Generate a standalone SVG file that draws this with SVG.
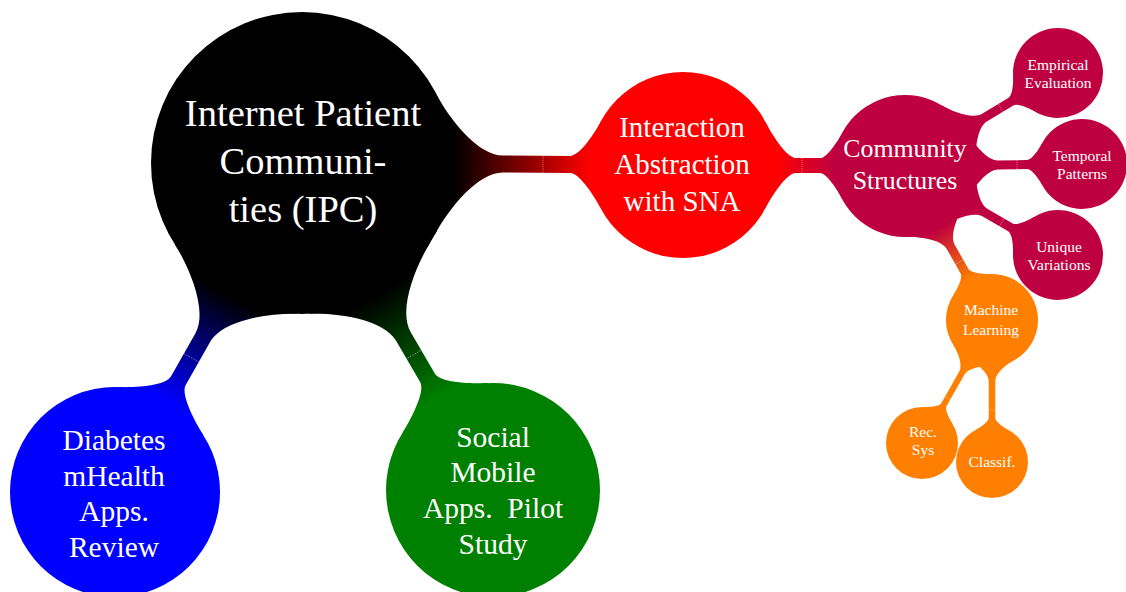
<svg xmlns="http://www.w3.org/2000/svg" width="1126" height="592" viewBox="0 0 1126 592">
  <style>
    .t { font-family: "Liberation Serif", "Times New Roman", serif; fill: #ffffff; text-anchor: middle; }
    .t1 { font-size: 38.5px; }
    .t2 { font-size: 29px; }
    .t2b { font-size: 29.5px; }
    .t3 { font-size: 25.8px; }
    .t4 { font-size: 15.5px; }
    .seam { stroke: #ffffff; stroke-opacity: 0.6; stroke-width: 0.8; stroke-dasharray: 1 1; fill: none; }
  </style>
  <defs>
    <linearGradient id="g-sna" gradientUnits="userSpaceOnUse" x1="151" y1="0" x2="288" y2="0">
      <stop offset="0" stop-color="#000000"/>
      <stop offset="1" stop-color="#ff0000"/>
    </linearGradient>
    <linearGradient id="g-diab" gradientUnits="userSpaceOnUse" x1="151" y1="0" x2="273.4" y2="0">
      <stop offset="0" stop-color="#000000"/>
      <stop offset="1" stop-color="#0000ff"/>
    </linearGradient>
    <linearGradient id="g-soc" gradientUnits="userSpaceOnUse" x1="151" y1="0" x2="271.7" y2="0">
      <stop offset="0" stop-color="#000000"/>
      <stop offset="1" stop-color="#008000"/>
    </linearGradient>
    <linearGradient id="g-com" gradientUnits="userSpaceOnUse" x1="93" y1="0" x2="151" y2="0">
      <stop offset="0" stop-color="#ff0000"/>
      <stop offset="1" stop-color="#bf0040"/>
    </linearGradient>
    <linearGradient id="g-ml" gradientUnits="userSpaceOnUse" x1="71" y1="0" x2="130.9" y2="0">
      <stop offset="0" stop-color="#bf0040"/>
      <stop offset="1" stop-color="#ff8000"/>
    </linearGradient>
  </defs>

  <!-- connection bars (drawn in local frames: parent centre at origin, child on +x axis) -->
  <g id="connectors">
    <g transform="translate(302 163) rotate(0.3)">
      <path fill="url(#g-sna)" d="M133.3,-70.8 C147.4,-44.3 176,-8.5 201,-8.5 L268,-8.5 C278,-8.5 293.3,-33 298.9,-43.6 L298.9,43.6 C293.3,33 278,8.5 268,8.5 L201,8.5 C176,8.5 147.4,44.3 133.3,70.8 Z"/>
      <line class="seam" x1="241" y1="-8.5" x2="241" y2="8.5"/>
    </g>
    <g transform="translate(302 163) rotate(119.6)">
      <path fill="url(#g-diab)" d="M133.3,-70.8 C147.4,-44.3 176,-8.5 201,-8.5 L250.4,-8.5 C261.9,-8.5 279.2,-37 285.7,-49.2 L285.7,49.2 C279.2,37 261.9,8.5 250.4,8.5 L201,8.5 C176,8.5 147.4,44.3 133.3,70.8 Z"/>
      <line class="seam" x1="224" y1="-8.5" x2="224" y2="8.5"/>
    </g>
    <g transform="translate(302 163) rotate(59.7)">
      <path fill="url(#g-soc)" d="M133.3,-70.8 C147.4,-44.3 176,-8.5 201,-8.5 L248.7,-8.5 C260.2,-8.5 277.7,-38 284.2,-50.2 L284.2,50.2 C277.7,38 260.2,8.5 248.7,8.5 L201,8.5 C176,8.5 147.4,44.3 133.3,70.8 Z"/>
      <line class="seam" x1="221.8" y1="-8.5" x2="221.8" y2="8.5"/>
    </g>
    <g transform="translate(683 165) rotate(0.26)">
      <path fill="url(#g-com)" d="M82.1,-43.6 C87.7,-33 103,-7.5 113,-7.5 L137,-7.5 C144,-7.5 155.4,-25.9 159.3,-33.3 L159.3,33.3 C155.4,25.9 144,7.5 137,7.5 L113,7.5 C103,7.5 87.7,33 82.1,43.6 Z"/>
      <line class="seam" x1="119" y1="-7.5" x2="119" y2="7.5"/>
    </g>
    <g transform="translate(905 166) rotate(-31.3)">
      <path fill="#bf0040" d="M62.7,-33.3 C68.9,-21.6 82,-4.5 93,-4.5 L124,-4.5 C129,-4.5 136.5,-15.8 139.3,-21.1 L139.3,21.1 C136.5,15.8 129,4.5 124,4.5 L93,4.5 C82,4.5 68.9,21.6 62.7,33.3 Z"/>
      <line class="seam" x1="112" y1="-4.5" x2="112" y2="4.5"/>
    </g>
    <g transform="translate(905 166) rotate(-0.65)">
      <path fill="#bf0040" d="M62.7,-33.3 C68.9,-21.6 82,-4.5 93,-4.5 L122,-4.5 C127,-4.5 134.5,-15.8 137.3,-21.1 L137.3,21.1 C134.5,15.8 127,4.5 122,4.5 L93,4.5 C82,4.5 68.9,21.6 62.7,33.3 Z"/>
      <line class="seam" x1="112" y1="-4.5" x2="112" y2="4.5"/>
    </g>
    <g transform="translate(905 166) rotate(30.2)">
      <path fill="#bf0040" d="M62.7,-33.3 C68.9,-21.6 82,-4.5 93,-4.5 L122,-4.5 C127,-4.5 134.5,-15.8 137.3,-21.1 L137.3,21.1 C134.5,15.8 127,4.5 122,4.5 L93,4.5 C82,4.5 68.9,21.6 62.7,33.3 Z"/>
      <line class="seam" x1="112" y1="-4.5" x2="112" y2="4.5"/>
    </g>
    <g transform="translate(905 166) rotate(60.5)">
      <path fill="url(#g-ml)" d="M62.7,-33.3 C68.9,-21.6 82,-4.5 93,-4.5 L120.9,-4.5 C125.9,-4.5 133.5,-16.3 136.3,-21.6 L136.3,21.6 C133.5,16.3 125.9,4.5 120.9,4.5 L93,4.5 C82,4.5 68.9,21.6 62.7,33.3 Z"/>
      <line class="seam" x1="110.5" y1="-4.5" x2="110.5" y2="4.5"/>
    </g>
    <g transform="translate(992 320) rotate(119.6)">
      <path fill="#ff8000" d="M40.6,-21.6 C44.8,-13.7 53.5,-3 61,-3 L97.5,-3 C101.5,-3 107.5,-12.7 109.7,-16.9 L109.7,16.9 C107.5,12.7 101.5,3 97.5,3 L61,3 C53.5,3 44.8,13.7 40.6,21.6 Z"/>
      <line class="seam" x1="89.6" y1="-3" x2="89.6" y2="3"/>
    </g>
    <g transform="translate(992 320) rotate(90)">
      <path fill="#ff8000" d="M40.6,-21.6 C44.8,-13.7 53.5,-3.3 61,-3.3 L98,-3.3 C102,-3.3 108,-12.7 110.2,-16.9 L110.2,16.9 C108,12.7 102,3.3 98,3.3 L61,3.3 C53.5,3.3 44.8,13.7 40.6,21.6 Z"/>
      <line class="seam" x1="90" y1="-3.3" x2="90" y2="3.3"/>
    </g>
  </g>

  <!-- concepts -->
  <g id="ipc">
    <circle cx="302" cy="163" r="151" fill="#000000"/>
    <text class="t t1" x="303" y="126">Internet Patient</text>
    <text class="t t1" x="303" y="174">Communi-</text>
    <text class="t t1" x="303" y="222">ties (IPC)</text>
  </g>
  <g id="sna">
    <circle cx="683" cy="165" r="93" fill="#ff0000"/>
    <text class="t t2" x="682" y="137">Interaction</text>
    <text class="t t2" x="682" y="173.5">Abstraction</text>
    <text class="t t2" x="682" y="210.5">with SNA</text>
  </g>
  <g id="diabetes">
    <circle cx="115" cy="492" r="105" fill="#0000ff"/>
    <text class="t t2b" x="114" y="450">Diabetes</text>
    <text class="t t2b" x="114" y="486">mHealth</text>
    <text class="t t2b" x="114" y="521">Apps.</text>
    <text class="t t2b" x="114" y="557">Review</text>
  </g>
  <g id="social">
    <circle cx="493" cy="490" r="107" fill="#008000"/>
    <text class="t t2b" x="493" y="447">Social</text>
    <text class="t t2b" x="493" y="482">Mobile</text>
    <text class="t t2b" x="493" y="518" xml:space="preserve">Apps.  Pilot</text>
    <text class="t t2b" x="493" y="554">Study</text>
  </g>
  <g id="community">
    <circle cx="905" cy="166" r="71" fill="#bf0040"/>
    <text class="t t3" x="905" y="157">Community</text>
    <text class="t t3" x="905" y="189">Structures</text>
  </g>
  <g id="empirical">
    <circle cx="1058" cy="73" r="45" fill="#bf0040"/>
    <text class="t t4" x="1058" y="70">Empirical</text>
    <text class="t t4" x="1058" y="88">Evaluation</text>
  </g>
  <g id="temporal">
    <circle cx="1082" cy="164" r="45" fill="#bf0040"/>
    <text class="t t4" x="1082" y="161">Temporal</text>
    <text class="t t4" x="1082" y="179">Patterns</text>
  </g>
  <g id="unique">
    <circle cx="1058" cy="255" r="45" fill="#bf0040"/>
    <text class="t t4" x="1059" y="252">Unique</text>
    <text class="t t4" x="1059" y="270">Variations</text>
  </g>
  <g id="ml">
    <circle cx="992" cy="320" r="46" fill="#ff8000"/>
    <text class="t t4" x="991" y="315">Machine</text>
    <text class="t t4" x="991" y="335">Learning</text>
  </g>
  <g id="recsys">
    <circle cx="922" cy="443" r="36" fill="#ff8000"/>
    <text class="t t4" x="923" y="437">Rec.</text>
    <text class="t t4" x="923" y="455">Sys</text>
  </g>
  <g id="classif">
    <circle cx="992" cy="462" r="36" fill="#ff8000"/>
    <text class="t t4" x="992" y="467">Classif.</text>
  </g>
</svg>
